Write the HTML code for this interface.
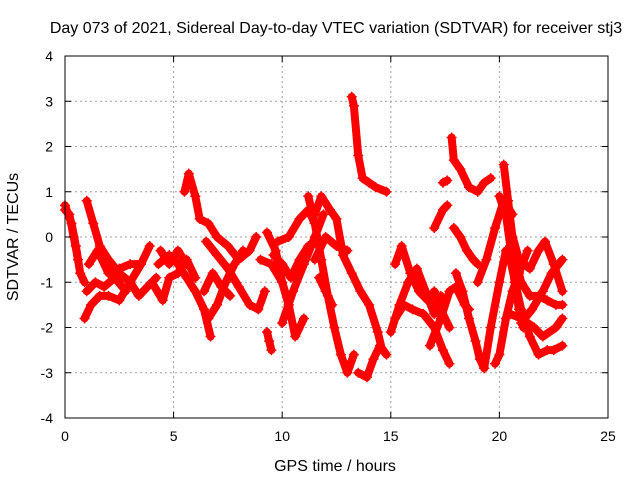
<!DOCTYPE html>
<html><head><meta charset="utf-8"><style>
body{margin:0;background:#fff}
svg text{font-family:"Liberation Sans",sans-serif;font-size:14px;fill:#000}
svg text.big{font-size:16px}
</style></head><body>
<svg id="chart" width="640" height="480" xmlns="http://www.w3.org/2000/svg">
<rect width="640" height="480" fill="#fff"/>
<text class="big" x="336" y="33" text-anchor="middle">Day 073 of 2021, Sidereal Day-to-day VTEC variation (SDTVAR) for receiver stj3</text>
<text class="big" x="335" y="471" text-anchor="middle">GPS time / hours</text>
<text class="big" x="18" y="237" text-anchor="middle" transform="rotate(-90 18 237)">SDTVAR / TECUs</text>
<g id="grid"></g>
<g id="marks"></g>
<rect x="65" y="56" width="543" height="362" fill="none" stroke="#000" stroke-width="1"/>
<g id="ticks"></g>
</svg>
<script>
const xTicks=[0,5,10,15,20,25];
const yTicks=[-4,-3,-2,-1,0,1,2,3,4];
const tracks=[
[[0,0.7],[0.3,0.3],[0.5,-0.2],[0.7,-0.8],[0.9,-1.0]],
[[0,0.6],[0.2,0.5],[0.4,0.0],[0.6,-0.5]],
[[0.9,-1.8],[1.2,-1.5],[1.6,-1.3],[2.0,-1.3],[2.5,-1.4],[3.0,-1.0],[3.5,-0.6],[3.9,-0.2]],
[[1.0,0.8],[1.3,0.3],[1.6,-0.2],[2.0,-0.5],[2.5,-0.8],[3.0,-1.0],[3.4,-1.3],[3.8,-1.1],[4.2,-0.9]],
[[1.1,-0.6],[1.5,-0.3],[2.0,-0.8],[2.5,-0.7],[3.0,-0.6],[3.5,-0.6]],
[[1.0,-1.2],[1.4,-1.0],[1.8,-1.1],[2.3,-0.9],[2.8,-1.2]],
[[4.3,-0.6],[4.8,-0.4],[5.2,-0.6],[5.6,-0.9],[6.0,-1.2],[6.4,-1.6],[6.7,-2.2]],
[[4.0,-1.0],[4.5,-1.4],[4.8,-0.9],[5.2,-0.8],[5.6,-0.5],[6.0,-0.9]],
[[4.4,-0.3],[4.8,-0.6],[5.2,-0.3],[5.6,-0.6]],
[[5.5,1.0],[5.7,1.4],[6.0,0.9],[6.2,0.4],[6.6,0.3],[7.0,0],[7.5,-0.2],[8.0,-0.5],[8.5,-0.3],[8.8,0]],
[[6.5,-0.1],[7.0,-0.4],[7.5,-0.7],[8.0,-1.1],[8.5,-1.5],[8.9,-1.6],[9.2,-1.2]],
[[6.6,-1.8],[7.0,-1.5],[7.4,-1.0],[7.8,-0.6],[8.2,-0.3]],
[[6.4,-1.2],[6.8,-0.8],[7.2,-1.1],[7.6,-1.3]],
[[9.3,-2.1],[9.4,-2.3],[9.5,-2.5]],
[[9.0,-0.5],[9.5,-0.6],[10,-1.0],[10.3,-1.5],[10.6,-2.2],[11.0,-1.8]],
[[9.3,0.1],[9.7,-0.3],[10.0,-1.0],[10.3,-1.5]],
[[10.0,-1.9],[10.5,-1.2],[11.0,-0.6],[11.5,0.0],[11.9,0.5]],
[[9.8,-0.1],[10.3,0],[10.8,0.4],[11.2,0.6],[11.5,0.3]],
[[9.6,-0.4],[10.0,-0.6],[10.4,-0.9],[10.8,-0.5],[11.2,-0.2]],
[[11.2,0.9],[11.5,0.3],[11.8,-0.5],[12.1,-1.3],[12.4,-2.0],[12.7,-2.6],[13.0,-3.0],[13.3,-2.6]],
[[11.5,0.5],[11.8,0.9],[12.2,0.6],[12.5,0.4],[12.8,-0.4],[13.2,-0.8],[13.6,-1.2],[14.0,-1.5],[14.4,-2.1],[14.6,-2.5]],
[[11.5,-0.5],[12.0,0],[12.5,-0.2],[13.0,-0.3]],
[[11.7,-0.9],[12.0,-1.2],[12.3,-1.5]],
[[13.2,3.1],[13.3,2.9],[13.5,1.8],[13.7,1.3],[14.0,1.2],[14.3,1.1],[14.8,1.0]],
[[13.5,-3.0],[13.9,-3.1],[14.2,-2.7],[14.5,-2.4],[14.8,-2.6]],
[[15.2,-0.6],[15.5,-0.2],[15.9,-0.8],[16.3,-1.2],[16.7,-1.4],[17.0,-1.2],[17.3,-1.6],[17.7,-2.0]],
[[15.2,-1.8],[15.6,-1.5],[16.0,-1.6],[16.5,-1.7],[17.0,-2.0],[17.4,-2.5],[17.7,-2.8]],
[[15.0,-2.1],[15.4,-1.5],[15.8,-1.0],[16.2,-0.7],[16.6,-1.2],[17.0,-1.7],[17.3,-1.3]],
[[16.8,-2.4],[17.3,-1.8],[17.7,-1.2],[18.0,-1.1],[18.4,-1.5],[18.6,-1.6]],
[[17.0,0.2],[17.4,0.6],[17.6,0.7]],
[[17.4,1.2],[17.6,1.25]],
[[17.8,2.2],[17.9,1.7],[18.2,1.5],[18.6,1.1],[19.0,1.0],[19.3,1.2],[19.6,1.3]],
[[17.9,0.2],[18.2,0.0],[18.5,-0.3],[18.8,-0.5],[19.0,-0.6]],
[[18.0,-0.8],[18.3,-1.2],[18.6,-1.8],[18.9,-2.3],[19.1,-2.7],[19.3,-2.9]],
[[19.8,-2.8],[20.0,-2.6],[20.3,-1.8],[20.6,-1.2],[20.9,-0.8],[21.3,-0.3]],
[[19.3,-2.9],[19.6,-2.0],[20.0,-1.0],[20.3,-0.3]],
[[20.2,1.6],[20.4,0.8],[20.6,0],[20.8,-0.6],[21.0,-1.0],[21.4,-1.3],[21.8,-1.3],[22.2,-1.4],[22.6,-1.5],[22.9,-1.5]],
[[19.0,-1.0],[19.4,-0.5],[19.8,0.2],[20.2,0.8],[20.6,0.5]],
[[20.0,0.9],[20.5,0.2],[20.9,-0.5],[21.4,-0.7],[21.8,-0.3],[22.1,-0.1],[22.5,-0.6],[22.9,-1.2]],
[[20.5,-0.5],[21.0,-1.6],[21.4,-2.2],[21.8,-2.6],[22.2,-2.5],[22.5,-2.5],[22.9,-2.4]],
[[21.0,-1.9],[21.5,-1.6],[22.0,-1.2],[22.4,-0.8],[22.9,-0.5]],
[[20.5,-1.7],[21.0,-1.8],[21.6,-2.0],[22.0,-2.2],[22.6,-2.0],[22.9,-1.8]],
[[20.3,0.5],[20.5,-0.2],[20.7,-1.0],[20.9,-1.6],[21.1,-2.0]]
];
const X=h=>65+h*(543/25);
const Y=v=>237-v*(362/8);
const NS="http://www.w3.org/2000/svg";
const grid=document.getElementById('grid'),ticks=document.getElementById('ticks'),marks=document.getElementById('marks');
function mk(tag,attrs,parent){const e=document.createElementNS(NS,tag);for(const k in attrs)e.setAttribute(k,attrs[k]);parent.appendChild(e);return e;}
xTicks.forEach(t=>{
  if(t>0&&t<25){const g=mk('line',{x1:X(t),x2:X(t),y1:56,y2:418,stroke:'#a0a0a0','stroke-dasharray':'2,3'},grid);
  
  }
  mk('line',{x1:X(t),x2:X(t),y1:418,y2:412,stroke:'#000'},ticks);
  mk('line',{x1:X(t),x2:X(t),y1:56,y2:62,stroke:'#000'},ticks);
  const l=mk('text',{x:X(t),y:441,'text-anchor':'middle'},ticks);l.textContent=t;
  
  
});
yTicks.forEach(t=>{
  if(t>-4&&t<4){const g=mk('line',{x1:65,x2:608,y1:Y(t),y2:Y(t),stroke:'#a0a0a0','stroke-dasharray':'2,3'},grid);
  
  }
  mk('line',{x1:65,x2:71,y1:Y(t),y2:Y(t),stroke:'#000'},ticks);
  mk('line',{x1:608,x2:602,y1:Y(t),y2:Y(t),stroke:'#000'},ticks);
  const l=mk('text',{x:53,y:Y(t)+5,'text-anchor':'end'},ticks);l.textContent=t;
  
  
});
tracks.forEach(tr=>{
  const p=mk('polyline',{points:tr.map(d=>X(d[0])+','+Y(d[1])).join(' '),fill:'none',stroke:'#ff0000','stroke-width':8,'stroke-linejoin':'round','stroke-linecap':'round'},marks);
  
  
  tr.forEach(d=>{
    const x=X(d[0]),y=Y(d[1]);
    const m=mk('path',{d:`M${x-5},${y}H${x+5}M${x},${y-5}V${y+5}`,stroke:'#ff0000','stroke-width':1.5},marks);
    
    
  });
});
</script>
</body></html>
